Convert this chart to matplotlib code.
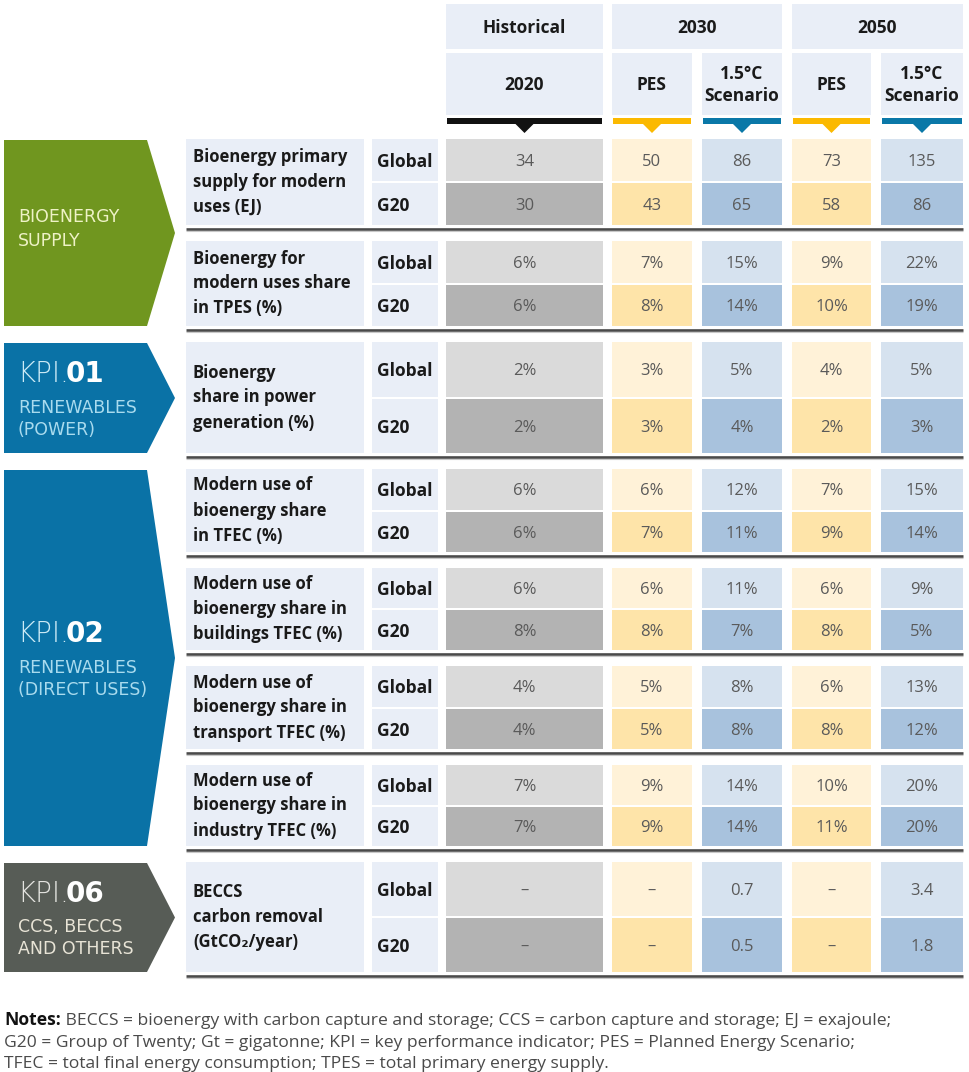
import matplotlib
matplotlib.use("Agg")
import matplotlib.pyplot as plt
from matplotlib.patches import Rectangle, Polygon

# table content
indicators = [
    "Bioenergy primary\nsupply for modern\nuses (EJ)",
    "Bioenergy for\nmodern uses share\nin TPES (%)",
    "Bioenergy\nshare in power\ngeneration (%)",
    "Modern use of\nbioenergy share\nin TFEC (%)",
    "Modern use of\nbioenergy share in\nbuildings TFEC (%)",
    "Modern use of\nbioenergy share in\ntransport TFEC (%)",
    "Modern use of\nbioenergy share in\nindustry TFEC (%)",
    "BECCS\ncarbon removal\n(GtCO\u2082/year)",
]
units = ["EJ", "%", "%", "%", "%", "%", "%", "Gt"]
regions = ["Global", "G20"]

# None means "-" in the table
hist_2020_global = [34, 6, 2, 6, 6, 4, 7, None]
hist_2020_g20    = [30, 6, 2, 6, 8, 4, 7, None]
pes_2030_global  = [50, 7, 3, 6, 6, 5, 9, None]
pes_2030_g20     = [43, 8, 3, 7, 8, 5, 9, None]
s15_2030_global  = [86, 15, 5, 12, 11, 8, 14, 0.7]
s15_2030_g20     = [65, 14, 4, 11, 7, 8, 14, 0.5]
pes_2050_global  = [73, 9, 4, 7, 6, 6, 10, None]
pes_2050_g20     = [58, 10, 2, 9, 8, 8, 11, None]
s15_2050_global  = [135, 22, 5, 15, 9, 13, 20, 3.4]
s15_2050_g20     = [86, 19, 3, 14, 5, 12, 20, 1.8]

top_headers = ["Historical", "2030", "2050"]
sub_headers = ["2020", "PES", "1.5\u00b0C\nScenario", "PES", "1.5\u00b0C\nScenario"]

banner_rows = [(0, 1), (2, 2), (3, 6), (7, 7)]
banner_kpi = [None, "01", "02", "06"]
banner_sub = [["BIOENERGY", "SUPPLY"], ["RENEWABLES", "(POWER)"],
              ["RENEWABLES", "(DIRECT USES)"], ["CCS, BECCS", "AND OTHERS"]]

notes_lines = [
    "BECCS = bioenergy with carbon capture and storage; CCS = carbon capture and storage; EJ = exajoule;",
    "G20 = Group of Twenty; Gt = gigatonne; KPI = key performance indicator; PES = Planned Energy Scenario;",
    "TFEC = total final energy consumption; TPES = total primary energy supply.",
]

columns = [
    (hist_2020_global, hist_2020_g20),
    (pes_2030_global, pes_2030_g20),
    (s15_2030_global, s15_2030_g20),
    (pes_2050_global, pes_2050_g20),
    (s15_2050_global, s15_2050_g20),
]

# ---- layout / styles (pixel space) ----
W, H = 969, 1072
FONT = ["Open Sans", "DejaVu Sans"]
BFONT = ["DejaVu Sans"]
col_edges = [(446, 603), (612, 692), (702, 782), (792, 871), (881, 963)]
top_spans = [(0, 0), (1, 2), (3, 4)]
group_h = [86, 85, 111, 83, 82, 83, 81, 110]
GAP, Y0 = 16, 139
LABEL_X = (186, 364)
REGION_X = (372, 438)
BAN_X0, BAN_X1, BAN_TIP = 4, 147, 175

cell_colors = [("#dadada", "#b3b3b3"), ("#fff2d8", "#fee4a9"), ("#d6e2ef", "#a8c2dd"),
               ("#fff2d8", "#fee4a9"), ("#d6e2ef", "#a8c2dd")]
bar_colors = ["#111111", "#fbb900", "#0a78a8", "#fbb900", "#0a78a8"]
HEAD_BG = "#e9eef7"
banner_colors = ["#70961f", "#0a72a6", "#0a72a6", "#575c56"]
banner_kpi_col = [None, "#cdebf6", "#cdebf6", "#e4e4e0"]
banner_sub_col = ["#eef2c6", "#a9dbee", "#a9dbee", "#e8e4d6"]


def fmt(v, unit):
    if v is None:
        return "\u2013"
    if unit == "%":
        return f"{v:.0f}%"
    if unit == "Gt":
        return f"{v:.1f}"
    return f"{v:.0f}"


fig = plt.figure(figsize=(W / 100, H / 100), dpi=100)
ax = fig.add_axes([0, 0, 1, 1])
ax.set_xlim(0, W)
ax.set_ylim(H, 0)
ax.axis("off")

# group vertical positions
tops, bots = [], []
y = Y0
for h in group_h:
    tops.append(y)
    bots.append(y + h)
    y += h + GAP

# header boxes
for (a, b), label in zip(top_spans, top_headers):
    x0, x1 = col_edges[a][0], col_edges[b][1]
    ax.add_patch(Rectangle((x0, 4), x1 - x0, 45, color=HEAD_BG, lw=0))
    ax.text((x0 + x1) / 2, 26, label, ha="center", va="center_baseline",
            fontsize=12.5, fontweight="bold", family=FONT, color="#1a1a1a")
for j, ((x0, x1), label) in enumerate(zip(col_edges, sub_headers)):
    ax.add_patch(Rectangle((x0, 53), x1 - x0, 62, color=HEAD_BG, lw=0))
    ax.text((x0 + x1) / 2, 85, label, ha="center", va="center",
            fontsize=12.5, fontweight="bold", family=FONT, color="#1a1a1a", linespacing=1.25)
    cx = (x0 + x1) / 2
    ax.add_patch(Rectangle((x0 + 1, 118), x1 - x0 - 2, 6, color=bar_colors[j], lw=0))
    ax.add_patch(Polygon([(cx - 10, 123), (cx + 10, 123), (cx, 133)], closed=True,
                         color=bar_colors[j], lw=0))

# table body
for g, (top, bot) in enumerate(zip(tops, bots)):
    mid = (top + bot) / 2
    ax.add_patch(Rectangle((LABEL_X[0], top), LABEL_X[1] - LABEL_X[0], bot - top, color=HEAD_BG, lw=0))
    ax.text(LABEL_X[0] + 7, mid, indicators[g], ha="left", va="center", fontsize=12,
            fontweight="bold", family=FONT, color="#1a1a1a", linespacing=1.5)
    halves = [(top, mid - 1), (mid + 1, bot)]
    for r, (h0, h1) in enumerate(halves):
        ax.add_patch(Rectangle((REGION_X[0], h0), REGION_X[1] - REGION_X[0], h1 - h0, color=HEAD_BG, lw=0))
        ax.text(REGION_X[0] + 5, (h0 + h1) / 2, regions[r], ha="left", va="center_baseline",
                fontsize=12.5, fontweight="bold", family=FONT, color="#1a1a1a")
        for j, (x0, x1) in enumerate(col_edges):
            ax.add_patch(Rectangle((x0, h0), x1 - x0, h1 - h0, color=cell_colors[j][r], lw=0))
            ax.text((x0 + x1) / 2, (h0 + h1) / 2, fmt(columns[j][r][g], units[g]),
                    ha="center", va="center_baseline", fontsize=12, family=FONT, color="#5a5a5a")
    ax.plot([LABEL_X[0], col_edges[-1][1]], [bot + 3.5, bot + 3.5], color="#4a4a4a", lw=1.9,
            solid_capstyle="butt")
    ax.plot([LABEL_X[0], col_edges[-1][1]], [bot + 5.5, bot + 5.5], color="#c8c8c8", lw=0.8,
            solid_capstyle="butt")

# left banners
for k, (ga, gb) in enumerate(banner_rows):
    t, b = tops[ga] + 1, bots[gb]
    m = (t + b) / 2
    ax.add_patch(Polygon([(BAN_X0, t), (BAN_X1, t), (BAN_TIP, m), (BAN_X1, b), (BAN_X0, b)],
                         closed=True, color=banner_colors[k], lw=0))
    if banner_kpi[k] is None:
        sub_y = [m - 18, m + 6]
    else:
        t1 = ax.text(17, m - 27, "KPI.", ha="left", va="center_baseline", fontsize=20,
                     family=BFONT, fontweight="light", color=banner_kpi_col[k])
        ax.annotate(banner_kpi[k], xy=(1, 0), xycoords=t1, xytext=(-2.5, 0),
                    textcoords="offset points", ha="left", va="bottom",
                    fontsize=20, family=BFONT, fontweight="bold", color="white")
        sub_y = [m + 8, m + 30]
    for line, yy in zip(banner_sub[k], sub_y):
        ax.text(18, yy, line, ha="left", va="center_baseline", fontsize=12.5,
                family=BFONT, color=banner_sub_col[k])

# notes
n1 = ax.text(4, 1018, "Notes:", ha="left", va="center_baseline", fontsize=12.6,
             fontweight="bold", family=FONT, color="#111111")
ax.annotate(" " + notes_lines[0], xy=(1, 0), xycoords=n1, ha="left", va="bottom",
            fontsize=12.6, family=FONT, color="#4a4a4a")
for i, line in enumerate(notes_lines[1:]):
    ax.text(4, 1041 + 21 * i, line, ha="left", va="center_baseline", fontsize=12.6,
            family=FONT, color="#4a4a4a")

fig.savefig("out.png", dpi=100)
